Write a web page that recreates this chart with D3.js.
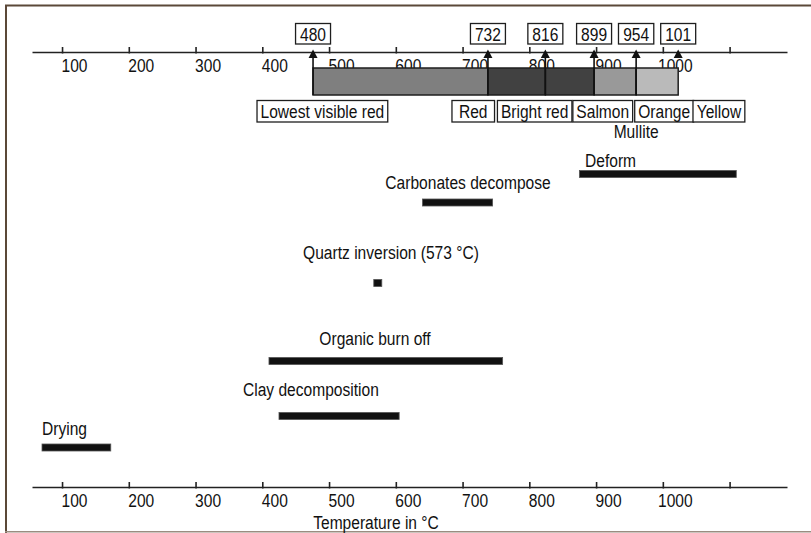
<!DOCTYPE html>
<html>
<head>
<meta charset="utf-8">
<script src="https://cdn.jsdelivr.net/npm/d3@7"></script>
<style>
  body { margin: 0; background: #fff; }
  text { font-family: "Liberation Sans", Arial, sans-serif; font-size: 19px; fill: #111; }
</style>
</head>
<body>
<div id="chart"></div>
<script>
// axis ticks
const tickValues = [100, 200, 300, 400, 500, 600, 700, 800, 900, 1000, 1100];
const tickLabels = ['100', '200', '300', '400', '500', '600', '700', '800', '900', '1000', ''];

// glow colour band: edges in °C and the numbers printed above them
const glowEdges = [476, 738, 824, 897, 960, 1023];
const edgeLabels = ['480', '732', '816', '899', '954', '101'];
const glowNames = ['Lowest visible red', 'Red', 'Bright red', 'Salmon', 'Orange', 'Yellow'];
const glowNameAt = [490, 716, 808, 910, 1002, 1084];
const mulliteAt = 960;

// firing processes, start / end temperature in °C
const processNames = ['Deform', 'Carbonates decompose', 'Quartz inversion (573 °C)', 'Organic burn off', 'Clay decomposition', 'Drying'];
const processStart = [875, 640, 567, 410, 425, 70];
const processEnd = [1110, 745, 579, 760, 605, 173];

// narrow the sans face horizontally, the original uses a condensed font
const SX = 0.82;
const narrow = (x, y) => `translate(${x},${y}) scale(${SX},1)`;

class FiringChart {
  constructor(_config) {
    this.config = {
      parentElement: _config.parentElement,
      containerWidth: 811,
      containerHeight: 533,
      xRange: [32, 787],
      topAxisY: 52,
      bottomAxisY: 487,
    };
    // layout of the rows (bar centre, label position)
    this.rows = [
      { y: 174, lx: 585, ly: 167, anchor: 'start' },
      { y: 202.5, lx: 468, ly: 189, anchor: 'middle' },
      { y: 283, lx: 391, ly: 259, anchor: 'middle' },
      { y: 361, lx: 375, ly: 345, anchor: 'middle' },
      { y: 416, lx: 243, ly: 396, anchor: 'start' },
      { y: 447.5, lx: 42, ly: 435, anchor: 'start' },
    ];
    this.bandFill = ['#7f7f7f', '#414141', '#414141', '#999999', '#bababa'];
    this.initVis();
  }

  initVis() {
    const vis = this;

    vis.svg = d3
      .select(vis.config.parentElement)
      .append('svg')
      .attr('width', vis.config.containerWidth)
      .attr('height', vis.config.containerHeight);

    vis.x = d3.scaleLinear().domain([55, 1186]).range(vis.config.xRange);

    vis.renderFrame();
    vis.renderAxes();
    vis.renderBand();
    vis.renderProcesses();
  }

  renderFrame() {
    const vis = this;
    const W = vis.config.containerWidth;
    vis.svg.append('line').attr('x1', 5).attr('x2', W).attr('y1', 5.5).attr('y2', 5.5)
      .attr('stroke', '#5b4838').attr('stroke-width', 2);
    vis.svg.append('line').attr('x1', 6).attr('x2', 6).attr('y1', 5).attr('y2', 533)
      .attr('stroke', '#5b4838').attr('stroke-width', 2);
    vis.svg.append('line').attr('x1', 5).attr('x2', W).attr('y1', 531.8).attr('y2', 531.8)
      .attr('stroke', '#9a8c80').attr('stroke-width', 1.5);
  }

  renderAxes() {
    const vis = this;
    const axis = d3
      .axisBottom(vis.x)
      .tickValues(tickValues)
      .tickFormat((d, i) => tickLabels[i])
      .tickSizeOuter(0);

    [vis.config.topAxisY, vis.config.bottomAxisY].forEach((yPos) => {
      const g = vis.svg
        .append('g')
        .attr('transform', `translate(0,${yPos})`)
        .call(axis);
      g.attr('font-family', null).attr('font-size', null);
      g.select('.domain').attr('stroke', '#222').attr('stroke-width', 1.6);
      g.selectAll('.tick line').attr('y1', -5).attr('y2', 1.5).attr('stroke', '#222').attr('stroke-width', 1.6);
      g.selectAll('.tick text')
        .attr('x', 0)
        .attr('y', 0)
        .attr('dy', null)
        .attr('fill', '#111')
        .attr('transform', narrow(12, 20));
    });

    vis.svg
      .append('text')
      .attr('transform', narrow(376, 529))
      .attr('text-anchor', 'middle')
      .text('Temperature in °C');
  }

  boxedText(cls, items, xOf, textY, boxY, boxH, padOf) {
    const vis = this;
    const groups = vis.svg.selectAll('.' + cls).data(items).join('g').attr('class', cls);
    groups.append('rect');
    groups
      .append('text')
      .attr('text-anchor', 'middle')
      .attr('transform', (d, i) => narrow(xOf(d, i), textY))
      .text((d) => d);
    groups.each(function (d, i) {
      const t = d3.select(this).select('text').node().getBBox();
      const w = t.width * SX;
      const pad = padOf(d);
      d3.select(this)
        .select('rect')
        .attr('x', xOf(d, i) - w / 2 - pad)
        .attr('width', w + pad * 2)
        .attr('y', boxY)
        .attr('height', boxH)
        .attr('fill', '#fff')
        .attr('stroke', '#1e1e1e')
        .attr('stroke-width', 1.3);
    });
  }

  renderBand() {
    const vis = this;
    const bandTop = 68;
    const bandBottom = 95;

    vis.svg
      .selectAll('.band')
      .data(d3.pairs(glowEdges))
      .join('rect')
      .attr('class', 'band')
      .attr('x', (d) => vis.x(d[0]))
      .attr('width', (d) => vis.x(d[1]) - vis.x(d[0]))
      .attr('y', bandTop)
      .attr('height', bandBottom - bandTop)
      .attr('fill', (d, i) => vis.bandFill[i])
      .attr('stroke', '#1e1e1e')
      .attr('stroke-width', 1.5);

    // arrows
    vis.svg
      .selectAll('.shaft')
      .data(glowEdges.slice(0, 5))
      .join('line')
      .attr('class', 'shaft')
      .attr('x1', (d) => vis.x(d))
      .attr('x2', (d) => vis.x(d))
      .attr('y1', 57)
      .attr('y2', bandBottom)
      .attr('stroke', '#111')
      .attr('stroke-width', 1.6);

    vis.svg
      .selectAll('.head')
      .data(glowEdges)
      .join('path')
      .attr('class', 'head')
      .attr('d', (d) => {
        const cx = vis.x(d);
        return `M${cx},49.5L${cx + 4.5},58L${cx - 4.5},58Z`;
      })
      .attr('fill', '#111');

    // boxed numbers above the arrows
    vis.boxedText('vbox', edgeLabels, (d, i) => vis.x(glowEdges[i]), 41, 23.5, 20.5, () => 4.5);

    // boxed colour names below the band
    vis.boxedText('nbox', glowNames, (d, i) => vis.x(glowNameAt[i]), 118, 100.5, 21.5, (d) => (d === 'Red' ? 7 : 3.5));

    vis.svg
      .append('text')
      .attr('transform', narrow(vis.x(mulliteAt), 138))
      .attr('text-anchor', 'middle')
      .text('Mullite');
  }

  renderProcesses() {
    const vis = this;
    const barH = 7;

    vis.svg
      .selectAll('.proc')
      .data(processNames)
      .join('rect')
      .attr('class', 'proc')
      .attr('x', (d, i) => vis.x(processStart[i]))
      .attr('width', (d, i) => vis.x(processEnd[i]) - vis.x(processStart[i]))
      .attr('y', (d, i) => vis.rows[i].y - barH / 2)
      .attr('height', barH)
      .attr('fill', '#111')
      .attr('stroke', '#555')
      .attr('stroke-width', 0.8);

    vis.svg
      .selectAll('.plabel')
      .data(processNames)
      .join('text')
      .attr('class', 'plabel')
      .attr('transform', (d, i) => narrow(vis.rows[i].lx, vis.rows[i].ly))
      .attr('text-anchor', (d, i) => vis.rows[i].anchor)
      .text((d) => d);
  }
}

new FiringChart({ parentElement: '#chart' });
</script>
</body>
</html>
